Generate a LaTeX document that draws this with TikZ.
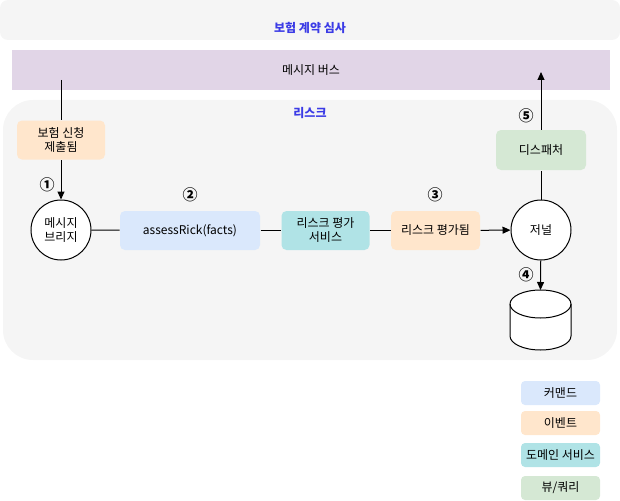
\documentclass[tikz,border=0pt]{standalone}
\usepackage{fontspec}
\setmainfont{Noto Sans CJK KR}
\usepackage{tikz}
\usetikzlibrary{arrows.meta}
\usetikzlibrary{shapes,positioning,calc}

\definecolor{lanegray}{HTML}{F5F5F5}
\definecolor{buspurple}{HTML}{E1D5E7}
\definecolor{cmdblue}{HTML}{DAE8FC}
\definecolor{evtorange}{HTML}{FFE6CC}
\definecolor{svcteal}{HTML}{B0E3E6}
\definecolor{viewgreen}{HTML}{D5E8D4}
\definecolor{titleblue}{HTML}{3B3BE6}

\begin{document}
\begin{tikzpicture}[x=1pt,y=-1pt,line width=1pt,
    font=\fontsize{12}{14}\selectfont,
    box/.style={rounded corners=5pt,minimum width=88pt,minimum height=39pt,inner sep=0pt,align=center},
    keybox/.style={rounded corners=4pt,minimum width=79pt,minimum height=24pt,inner sep=0pt},
    ball/.style={circle,draw,fill=white,minimum size=60pt,inner sep=0pt,align=center},
    lanetitle/.style={font=\fontsize{12}{14}\selectfont\bfseries,text=titleblue},
    stepno/.style={font=\fontsize{15}{15}\selectfont\bfseries},
    tip/.style={-{Triangle[length=8pt,width=7pt]}}]
			\useasboundingbox (0,0) rectangle (620,500);
			% lanes
			\fill[lanegray,rounded corners=8pt] (0,0) rectangle (620,40);
			\node[lanetitle] (review) at (310,28) {보험 계약 심사};
			\fill[lanegray,rounded corners=30pt] (3,100) rectangle (617,360);
			\node[lanetitle] (risklane) at (310,113) {리스크};
			\node[fill=buspurple,minimum width=598pt,minimum height=40pt,inner sep=0pt] (bus) at (311,70) {메시지 버스};
			\coordinate (busin) at (61,80);
			\coordinate (busout) at (541,72);
			% flow
			\node[box,fill=evtorange] (submitted) at (61,140) {보험 신청\\제출됨};
			\node[ball] (bridge) at (61,230) {메시지\\브리지};
			\node[box,fill=cmdblue,minimum width=140pt] (assess) at (190,230.5) {assessRick(facts)};
			\node[box,fill=svcteal] (risksvc) at (325.5,230.5) {리스크 평가\\서비스};
			\node[box,fill=evtorange,minimum width=89pt] (assessed) at (435.5,230.5) {리스크 평가됨};
			\node[ball] (journal) at (541,230) {저널};
			\node[box,fill=viewgreen,minimum width=90pt,minimum height=40pt] (dispatcher) at (541,150) {디스패처};
			\coordinate (store) at (540.5,290);
			\draw[fill=white] (510,304) -- (510,336) arc[start angle=180,end angle=0,x radius=30.5,y radius=14]
				-- (571,304) arc[start angle=0,end angle=-180,x radius=30.5,y radius=14] -- cycle;
			\draw (510,304) arc[start angle=180,end angle=0,x radius=30.5,y radius=14];
			\draw (busin) -- (submitted);
			\draw[tip] (submitted) -- (bridge);
			\draw (bridge) -- (assess);
			\draw (assess) -- (risksvc);
			\draw (risksvc) -- (assessed);
			\draw[tip] (assessed) -- (journal);
			\draw (journal) -- (dispatcher);
			\draw[tip] (dispatcher) -- (busout);
			\draw[tip] (journal) -- (store);
			\node[stepno] (n1) at (47,185) {①}; \node[stepno] (n2) at (190,195) {②};
			\node[stepno] (n3) at (435,195) {③}; \node[stepno] (n4) at (526,275) {④};
			\node[stepno] (n5) at (526,116) {⑤};
			% key
			\node[keybox,fill=cmdblue] (keycmd) at (560.5,393) {커맨드};
			\node[keybox,fill=evtorange] (keyevt) at (560.5,423) {이벤트};
			\node[keybox,fill=svcteal] (keysvc) at (560.5,455) {도메인 서비스};
			\node[keybox,fill=viewgreen] (keyview) at (560.5,488) {뷰/쿼리};
		\end{tikzpicture}
\end{document}
